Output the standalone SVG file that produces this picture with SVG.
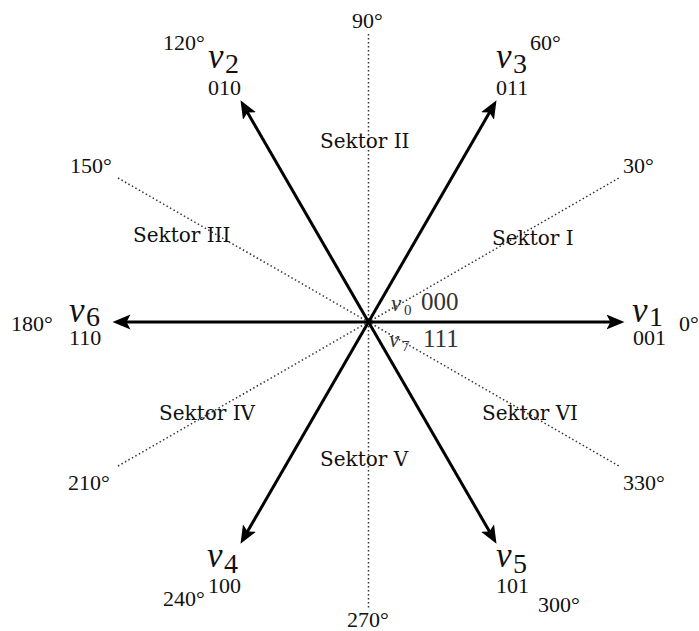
<svg xmlns="http://www.w3.org/2000/svg" width="699" height="631" viewBox="0 0 699 631">
<style>
.ax{stroke:#333;stroke-width:1.5;stroke-dasharray:1.5 2.5;fill:none}
.vec{stroke:#000;stroke-width:3;fill:none;marker-end:url(#ah)}
.serif{font-family:'Liberation Serif','Times New Roman',Tinos,Times,serif}
.deg{font-size:22px;fill:#111}
.code{font-size:22px;fill:#111}
.v{font-style:italic;font-size:35px;fill:#111}
.sub{font-size:28px;fill:#111}
.sek{font-family:'DejaVu Serif',serif;font-size:20px;fill:#111}
.c{fill:#333}
</style>
<defs>
<marker id="ah" markerUnits="userSpaceOnUse" markerWidth="20" markerHeight="16" viewBox="0 -8 20 16" refX="6" refY="0" orient="auto">
<path d="M18,0 L0,-7.5 L4,0 L0,7.5 Z" fill="#000"/>
</marker>
</defs>
<g id="axes">
<line class="ax" x1="368.5" y1="34" x2="368.5" y2="610"/>
<line class="ax" x1="118" y1="178" x2="619" y2="466"/>
<line class="ax" x1="118" y1="466" x2="619" y2="178"/>
</g>
<g id="connectors">
<line class="vec" x1="368.5" y1="322" x2="612.5" y2="322"/>
<line class="vec" x1="368.5" y1="322" x2="490.5" y2="110.7"/>
<line class="vec" x1="368.5" y1="322" x2="246.5" y2="110.7"/>
<line class="vec" x1="368.5" y1="322" x2="124.5" y2="322"/>
<line class="vec" x1="368.5" y1="322" x2="246.5" y2="533.3"/>
<line class="vec" x1="368.5" y1="322" x2="490.5" y2="533.3"/>
</g>
<g id="angles" class="serif">
<text class="deg" x="352" y="28">90°</text>
<text class="deg" x="163" y="50">120°</text>
<text class="deg" x="530" y="50">60°</text>
<text class="deg" x="70" y="173">150°</text>
<text class="deg" x="623" y="173">30°</text>
<text class="deg" x="11" y="331">180°</text>
<text class="deg" x="679" y="331">0°</text>
<text class="deg" x="68" y="490">210°</text>
<text class="deg" x="623" y="490">330°</text>
<text class="deg" x="163" y="606">240°</text>
<text class="deg" x="538" y="612">300°</text>
<text class="deg" x="347" y="627">270°</text>
</g>
<g id="v1" class="serif"><text class="v" x="632" y="322">v</text><text class="sub" x="649" y="326">1</text><text class="code" x="633" y="345">001</text></g>
<g id="v2" class="serif"><text class="v" x="208" y="68">v</text><text class="sub" x="225" y="73">2</text><text class="code" x="208" y="95">010</text></g>
<g id="v3" class="serif"><text class="v" x="496" y="68">v</text><text class="sub" x="513" y="73">3</text><text class="code" x="496" y="95">011</text></g>
<g id="v4" class="serif"><text class="v" x="207" y="567">v</text><text class="sub" x="224" y="573">4</text><text class="code" x="208" y="593">100</text></g>
<g id="v5" class="serif"><text class="v" x="496" y="567">v</text><text class="sub" x="513" y="573">5</text><text class="code" x="496" y="593">101</text></g>
<g id="v6" class="serif"><text class="v" x="69" y="322">v</text><text class="sub" x="86" y="326">6</text><text class="code" x="69" y="345">110</text></g>
<g id="v0" class="serif"><text class="c" x="391" y="311" font-size="23" font-style="italic">v</text><text class="c" x="404" y="315" font-size="15">0</text><text class="c" x="421" y="310" font-size="25">000</text></g>
<g id="v7" class="serif"><text class="c" x="389" y="347" font-size="23" font-style="italic">v</text><text class="c" x="402" y="351" font-size="15">7</text><text class="c" x="423" y="347" font-size="25">111</text></g>
<g id="sectors">
<text class="sek" x="492" y="245">Sektor I</text>
<text class="sek" x="320" y="148">Sektor II</text>
<text class="sek" x="133" y="242">Sektor III</text>
<text class="sek" x="159" y="420">Sektor IV</text>
<text class="sek" x="320" y="466">Sektor V</text>
<text class="sek" x="482" y="420">Sektor VI</text>
</g>
</svg>
